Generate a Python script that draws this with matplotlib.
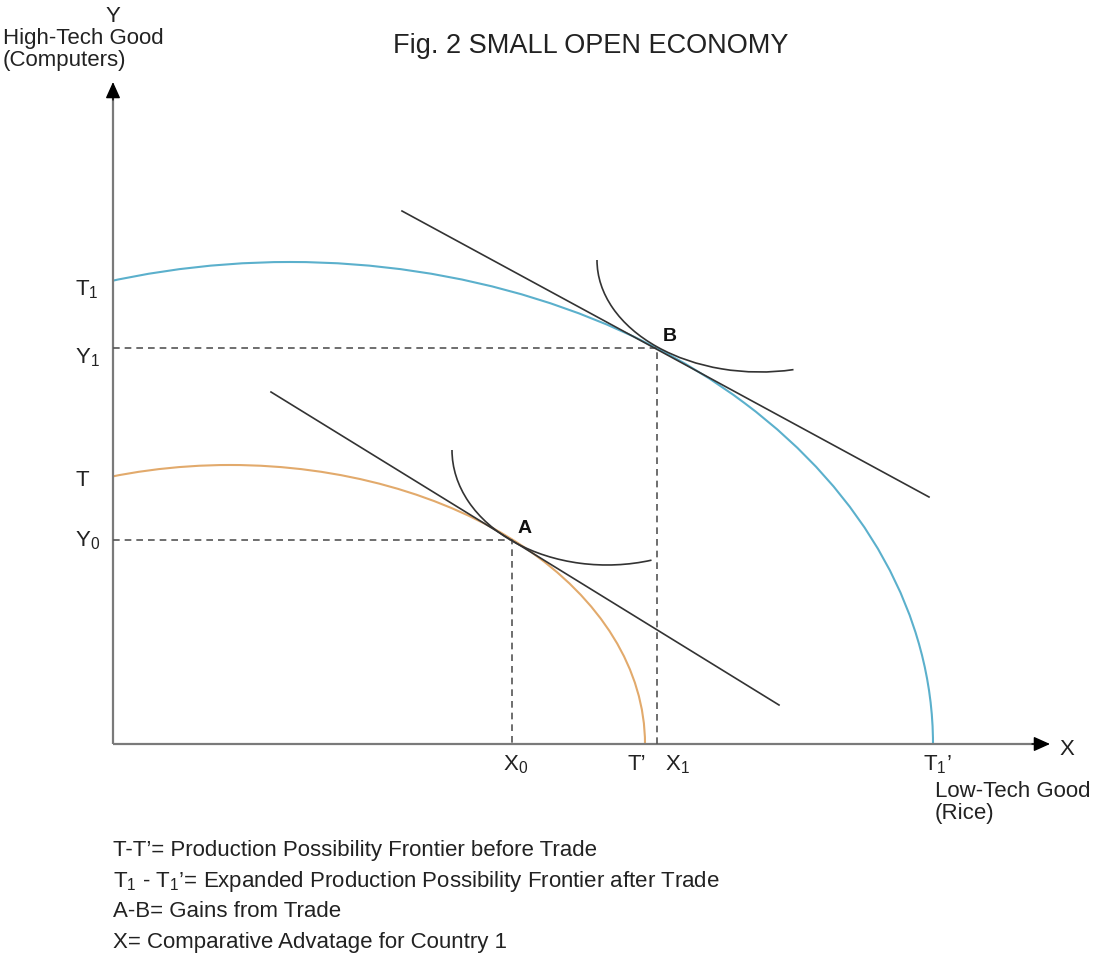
import numpy as np
import matplotlib.pyplot as plt
from matplotlib.patches import Arc, Rectangle

plt.rcParams['font.family'] = ['Liberation Sans', 'DejaVu Sans']
plt.rcParams['mathtext.fontset'] = 'custom'
plt.rcParams['mathtext.rm'] = 'Liberation Sans'
plt.rcParams['mathtext.it'] = 'Liberation Sans:italic'

# production possibility frontiers (quarter ellipses): peak x, peak y, x intercept
ppf_names = ['before', 'after']
ppf_peak_x = [117, 177]
ppf_peak_y = [279, 482]
ppf_x_end = [532, 820]
ppf_colors = ['#e2aa6c', '#5bb0cc']

# consumption points A and B
pt_labels = ['A', 'B']
pt_x = [399, 544]
pt_y = [204, 396]

# terms-of-trade lines (end points)
tot_x = [[158, 666], [289, 816]]
tot_y = [[352, 39], [533, 247]]

# indifference curves (elliptic arcs): centre, half width, half height, angles
ic_cx = [494, 647]
ic_cy = [294, 484]
ic_a = [155, 163]
ic_b = [115, 112]
ic_theta = [(180, 292), (180, 287)]

axis_tip_x = 937
axis_tip_y = 662

legend_lines = [
    "T-T’= Production Possibility Frontier before Trade",
    "T$_\\mathregular{1}$ - T$_\\mathregular{1}$’= Expanded Production Possibility Frontier after Trade",
    "A-B= Gains from Trade",
    "X= Comparative Advatage for Country 1",
]

fig = plt.figure(figsize=(11.02, 9.6), dpi=100)
ax = fig.add_axes([0, 0, 1, 1])
ax.set_xlim(-113, 989)
ax.set_ylim(-216, 744)
ax.axis('off')

# axes with arrows
ax.plot([0, 0], [0, axis_tip_y - 10], color='#7a7a7a', lw=1.6, solid_capstyle='butt')
ax.plot([0, axis_tip_x - 10], [0, 0], color='#7a7a7a', lw=1.6, solid_capstyle='butt')
ax.annotate('', xy=(0, axis_tip_y), xytext=(0, axis_tip_y - 18),
            arrowprops=dict(arrowstyle='-|>,head_length=1.0,head_width=0.45',
                            color='black', lw=1, shrinkA=0, shrinkB=0))
ax.annotate('', xy=(axis_tip_x, 0), xytext=(axis_tip_x - 18, 0),
            arrowprops=dict(arrowstyle='-|>,head_length=1.0,head_width=0.45',
                            color='black', lw=1, shrinkA=0, shrinkB=0))

# frontiers, clipped to the first quadrant
clip = Rectangle((0, 0), 2000, 2000, transform=ax.transData)
for px, py, xe, col in zip(ppf_peak_x, ppf_peak_y, ppf_x_end, ppf_colors):
    a = xe - px
    arc = Arc((px, 0), 2 * a, 2 * py, theta1=0, theta2=180,
              color=col, lw=1.5)
    ax.add_patch(arc)
    arc.set_clip_path(clip)

# dashed guides
for x, y in zip(pt_x, pt_y):
    ax.plot([0, x, x], [y, y, 0], color='#555555', lw=1.2,
            dashes=(4, 3))

# terms of trade lines
for xs, ys in zip(tot_x, tot_y):
    ax.plot(xs, ys, color='#333333', lw=1.2)

# indifference curves
for cx, cy, a, b, th in zip(ic_cx, ic_cy, ic_a, ic_b, ic_theta):
    ax.add_patch(Arc((cx, cy), 2 * a, 2 * b, theta1=th[0], theta2=th[1],
                     color='#333333', lw=1.2))

# point labels
for lab, x, y in zip(pt_labels, pt_x, pt_y):
    ax.text(x + 6, y + 7, lab, fontsize=14, fontweight='bold',
            ha='left', va='baseline', color='#111111')

fs = 16
tc = '#222222'
# y-axis labels
ax.text(-38, 449, 'T$_\\mathregular{1}$', fontsize=fs, color=tc, va='baseline')
ax.text(-38, 381, 'Y$_\\mathregular{1}$', fontsize=fs, color=tc, va='baseline')
ax.text(-38, 258, 'T', fontsize=fs, color=tc, va='baseline')
ax.text(-38, 198, 'Y$_\\mathregular{0}$', fontsize=fs, color=tc, va='baseline')
# x-axis labels
ax.text(390, -26, 'X$_\\mathregular{0}$', fontsize=fs, color=tc, va='baseline')
ax.text(515, -26, 'T’', fontsize=fs, color=tc, va='baseline')
ax.text(552, -26, 'X$_\\mathregular{1}$', fontsize=fs, color=tc, va='baseline')
ax.text(810, -26, 'T$_\\mathregular{1}$’', fontsize=fs, color=tc, va='baseline')
ax.text(947, -11, 'X', fontsize=fs, color=tc, va='baseline')

ax.text(0, 728, 'Y', fontsize=fs, color=tc, ha='center', va='center')
ax.text(-110, 716, 'High-Tech Good\n(Computers)', fontsize=fs, color=tc,
        ha='left', va='top', linespacing=1.05)
ax.text(822, -37, 'Low-Tech Good\n(Rice)', fontsize=fs, color=tc,
        ha='left', va='top', linespacing=1.05)

ax.text(280, 691, 'Fig. 2 SMALL OPEN ECONOMY', fontsize=19.5, color=tc,
        ha='left', va='baseline')

for i, line in enumerate(legend_lines):
    ax.text(0, -112 - 30.7 * i, line, fontsize=fs, color=tc,
            ha='left', va='baseline')

fig.savefig('out.png', dpi=100)
